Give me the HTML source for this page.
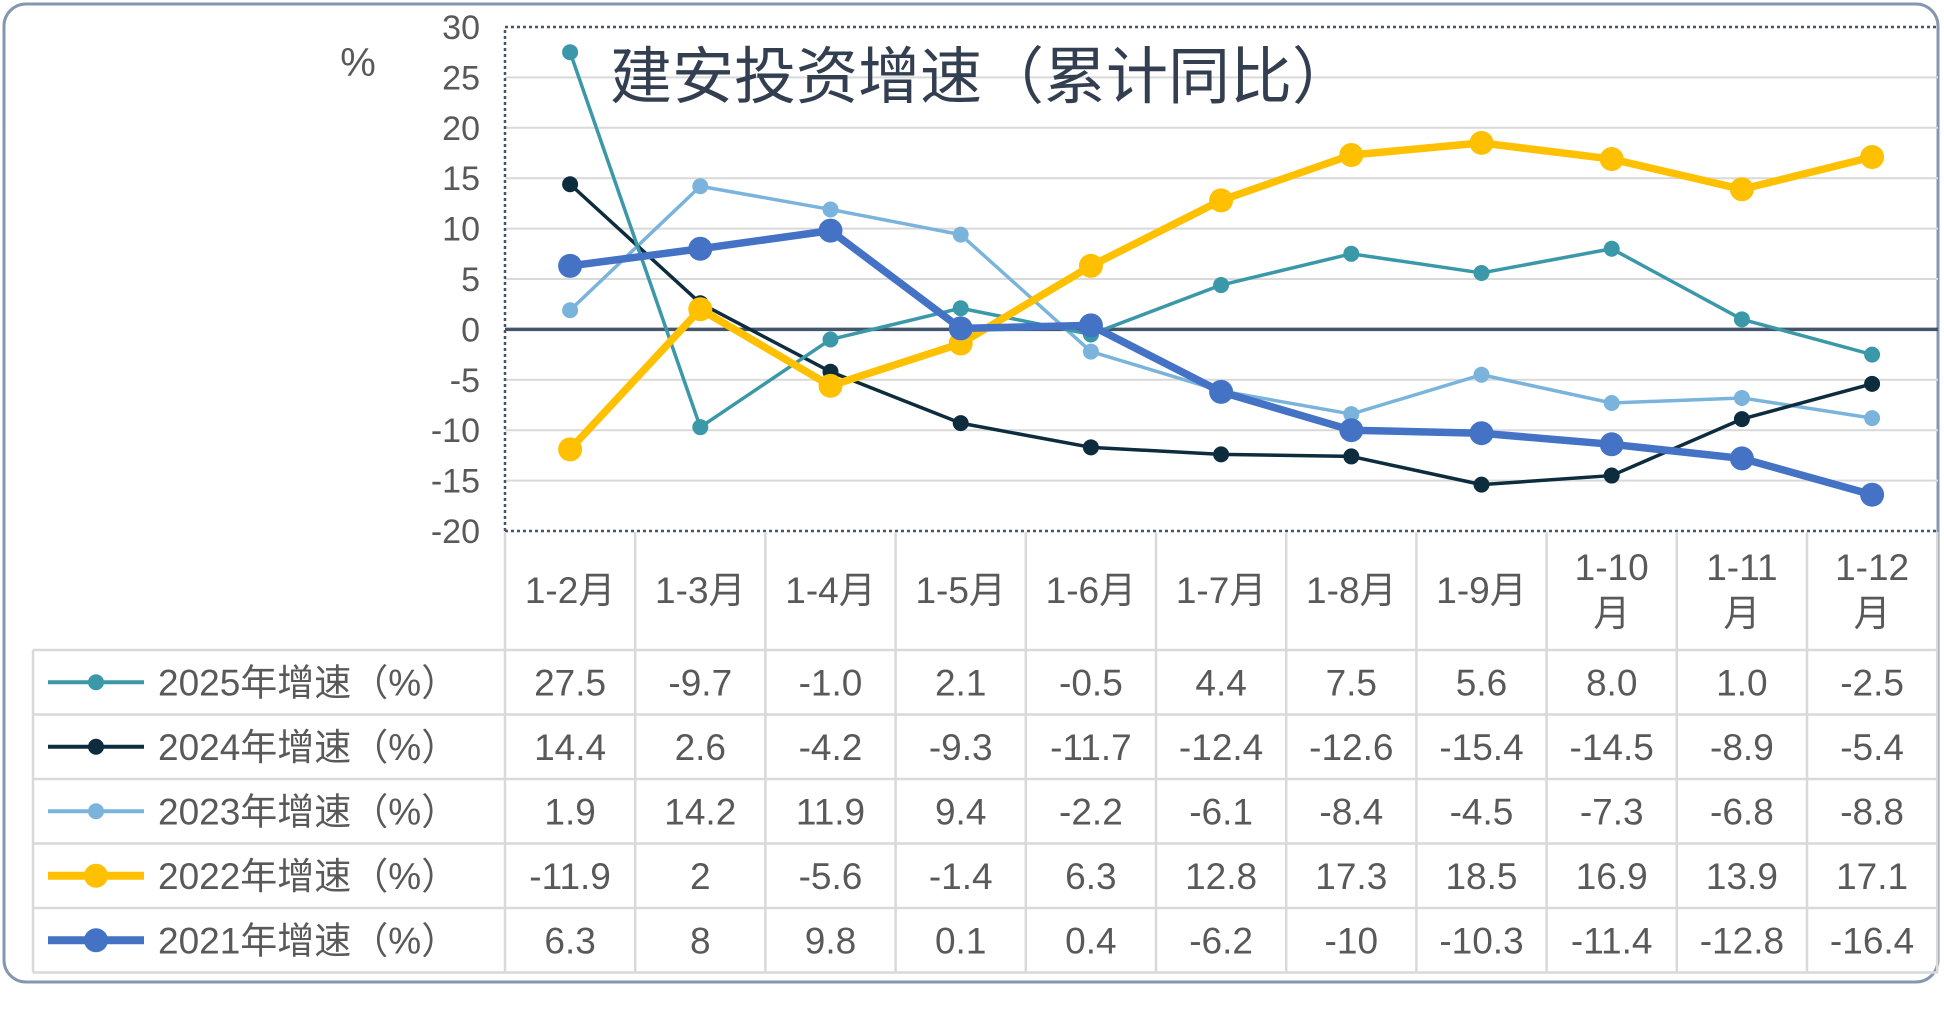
<!DOCTYPE html>
<html><head><meta charset="utf-8"><style>
html,body{margin:0;padding:0;background:#fff;}
svg{display:block;font-family:"Liberation Sans","Noto Sans CJK SC",sans-serif;}
</style></head><body>
<svg id="c" width="1944" height="1015" viewBox="0 0 1944 1015"></svg>
<script>
const categories=["1-2月","1-3月","1-4月","1-5月","1-6月","1-7月","1-8月","1-9月","1-10月","1-11月","1-12月"];
const s2025=[27.5,-9.7,-1.0,2.1,-0.5,4.4,7.5,5.6,8.0,1.0,-2.5];
const s2024=[14.4,2.6,-4.2,-9.3,-11.7,-12.4,-12.6,-15.4,-14.5,-8.9,-5.4];
const s2023=[1.9,14.2,11.9,9.4,-2.2,-6.1,-8.4,-4.5,-7.3,-6.8,-8.8];
const s2022=[-11.9,2,-5.6,-1.4,6.3,12.8,17.3,18.5,16.9,13.9,17.1];
const s2021=[6.3,8,9.8,0.1,0.4,-6.2,-10,-10.3,-11.4,-12.8,-16.4];
const label2025=["27.5","-9.7","-1.0","2.1","-0.5","4.4","7.5","5.6","8.0","1.0","-2.5"];
const label2022=["-11.9","2","-5.6","-1.4","6.3","12.8","17.3","18.5","16.9","13.9","17.1"];
const label2021=["6.3","8","9.8","0.1","0.4","-6.2","-10","-10.3","-11.4","-12.8","-16.4"];
const yTicks=[30,25,20,15,10,5,0,-5,-10,-15,-20];
const seriesNames=["2025年增速（%）","2024年增速（%）","2023年增速（%）","2022年增速（%）","2021年增速（%）"];

const svg=document.getElementById('c');
const NS='http://www.w3.org/2000/svg';
function el(tag,attrs,parent){const e=document.createElementNS(NS,tag);for(const k in attrs)e.setAttribute(k,attrs[k]);(parent||svg).appendChild(e);return e;}
const X0=505,CW=130.2,TOP=27,BOT=531,YMIN=-20,YMAX=30;
const x=i=>X0+CW*i+CW/2;
const y=v=>TOP+(YMAX-v)/(YMAX-YMIN)*(BOT-TOP);
const TXT='#595959';

let e;
e=el('rect',{x:4,y:4,width:1934,height:978,rx:22,fill:'#fff',stroke:'#8497b0','stroke-width':3});



// gridlines & y ticks
yTicks.forEach(t=>{
  if(t!==0&&t!==YMAX&&t!==YMIN){e=el('line',{x1:X0,x2:1938,y1:y(t),y2:y(t),stroke:'#d9d9d9','stroke-width':2});
  
  }
  e=el('text',{x:480,y:y(t)+12,'text-anchor':'end','font-size':34,fill:TXT});
  e.textContent=t;
  
  
});
e=el('path',{d:`M${X0},${BOT} L${X0},${TOP} L1936,${TOP} M${X0},${BOT} L1936,${BOT}`,fill:'none',stroke:'#44546a','stroke-width':2.5,'stroke-dasharray':'3,3'});


e=el('line',{x1:X0,x2:1938,y1:y(0),y2:y(0),stroke:'#44546a','stroke-width':3.5});


e=el('text',{x:358,y:76,'text-anchor':'middle','font-size':40,fill:TXT});
e.textContent='%';


e=el('text',{x:610,y:98,'font-size':62,fill:'#333f50'});
e.textContent='建安投资增速（累计同比）';



const series=[
 {d:s2023,c:'#7ab4dc',w:3.5,r:8,n:'series-2023'},
 {d:s2024,c:'#0d2c3e',w:3.5,r:8,n:'series-2024'},
 {d:s2025,c:'#3a98a8',w:3.5,r:8,n:'series-2025'},
 {d:s2022,c:'#ffc000',w:7.5,r:12,n:'series-2022'},
 {d:s2021,c:'#4472c4',w:7.5,r:12,n:'series-2021'}];
series.forEach(s=>{
  const g=el('g',{});
  
  
  e=el('polyline',{points:s.d.map((v,i)=>x(i)+','+y(v)).join(' '),fill:'none',stroke:s.c,'stroke-width':s.w,'stroke-linejoin':'round'},g);
  
  
  s.d.forEach((v,i)=>{e=el('circle',{cx:x(i),cy:y(v),r:s.r,fill:s.c},g);
  
  });
});

// table
const TL=33,TR=1938,HT=532,RH=64.5,HB=650;
const grid='#d9d9d9';
for(let i=0;i<=11;i++){e=el('line',{x1:X0+CW*i,x2:X0+CW*i,y1:HT,y2:HB+RH*5,stroke:grid,'stroke-width':2.5});

}
for(let r=0;r<=5;r++){e=el('line',{x1:TL,x2:TR,y1:HB+RH*r,y2:HB+RH*r,stroke:grid,'stroke-width':2.5});

}
e=el('line',{x1:TL,x2:TL,y1:HB,y2:HB+RH*5,stroke:grid,'stroke-width':2.5});


categories.forEach((c,i)=>{
  const m=c.match(/^(1-\d+)(月)$/);
  if(c.length<=4){e=el('text',{x:x(i),y:603,'text-anchor':'middle','font-size':37,fill:TXT});e.textContent=c;}
  else{e=el('text',{x:x(i),y:580,'text-anchor':'middle','font-size':37,fill:TXT});
    const t1=el('tspan',{x:x(i)},e);t1.textContent=m[1];
    const t2=el('tspan',{x:x(i),dy:46},e);t2.textContent=m[2];}
  
  
});
const rows=[
 {lab:label2025,c:'#3a98a8',w:4,r:8},
 {lab:s2024.map(String),c:'#0d2c3e',w:4,r:8},
 {lab:s2023.map(String),c:'#7ab4dc',w:4,r:8},
 {lab:label2022,c:'#ffc000',w:8,r:12},
 {lab:label2021,c:'#4472c4',w:8,r:12}];
rows.forEach((row,r)=>{
  const cy=HB+RH*r+RH/2;
  e=el('line',{x1:48,x2:144,y1:cy,y2:cy,stroke:row.c,'stroke-width':row.w});
  
  
  e=el('circle',{cx:96,cy:cy,r:row.r,fill:row.c});
  
  
  e=el('text',{x:158,y:cy+13,'font-size':37,fill:TXT});
  e.textContent=seriesNames[r];
  
  
  row.lab.forEach((v,i)=>{
    e=el('text',{x:x(i),y:cy+13,'text-anchor':'middle','font-size':37,fill:TXT});
    e.textContent=v;
    
    
  });
});
</script>
</body></html>
